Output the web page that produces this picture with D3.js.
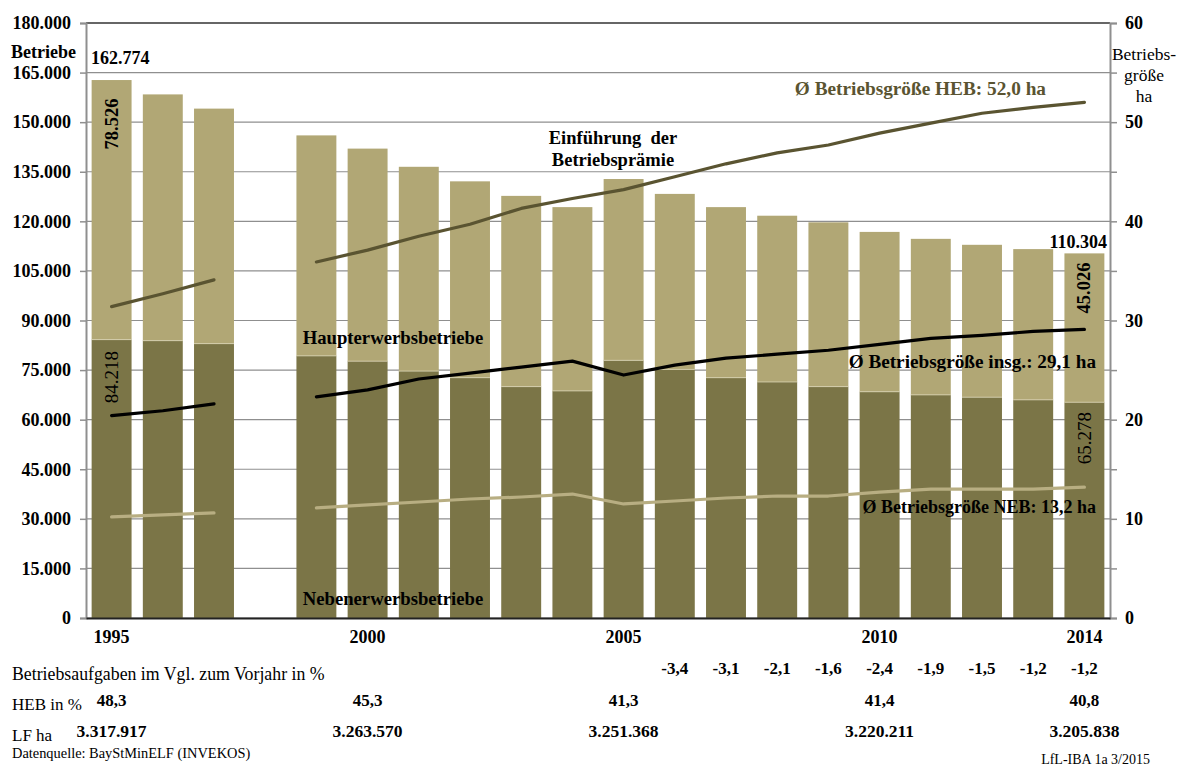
<!DOCTYPE html>
<html>
<head>
<meta charset="utf-8">
<script src="https://cdn.jsdelivr.net/npm/d3@7"></script>
<style>
  body { margin: 0; background: #fff; }
  svg { display: block; font-family: "Liberation Serif", "Times New Roman", serif; }
  text { white-space: pre; }
</style>
</head>
<body>
<svg id="chart" width="1177" height="765"></svg>
<script>
// ---- data ----
const years = ["1995","1996","1997","1998","1999","2000","2001","2002","2003","2004","2005","2006","2007","2008","2009","2010","2011","2012","2013","2014"];
// Nebenerwerbsbetriebe (dark, bottom)
const nebBetriebe = [84218, 83900, 83000, null, 79300, 77700, 74700, 72700, 70000, 68700, 77950, 75200, 72700, 71400, 70000, 68450, 67500, 66800, 66000, 65278];
// Haupterwerbsbetriebe (light, top)
const hebBetriebe = [78526, 74500, 71100, null, 66700, 64300, 61800, 59400, 57700, 55600, 54850, 53100, 51600, 50300, 49700, 48350, 47200, 46100, 45600, 45026];
// average farm size (ha)
const sizeHeb   = [31.4, 32.7, 34.1, null, 35.9, 37.1, 38.5, 39.7, 41.3, 42.3, 43.2, 44.5, 45.8, 46.9, 47.7, 48.9, 49.9, 50.9, 51.5, 52.0];
const sizeTotal = [20.4, 20.9, 21.6, null, 22.3, 23.0, 24.1, 24.7, 25.3, 25.9, 24.5, 25.5, 26.2, 26.6, 27.0, 27.6, 28.2, 28.5, 28.9, 29.1];
const sizeNeb   = [10.2, 10.4, 10.6, null, 11.1, 11.4, 11.7, 12.0, 12.2, 12.5, 11.5, 11.8, 12.1, 12.3, 12.3, 12.7, 13.0, 13.0, 13.0, 13.2];
// table rows
const aufgabenYears = ["2006","2007","2008","2009","2010","2011","2012","2013","2014"];
const aufgabenPct   = [-3.4, -3.1, -2.1, -1.6, -2.4, -1.9, -1.5, -1.2, -1.2];
const tableYears = ["1995","2000","2005","2010","2014"];
const hebPct = [48.3, 45.3, 41.3, 41.4, 40.8];
const lfHa   = [3317917, 3263570, 3251368, 3220211, 3205838];
const leftTicks  = [0,15000,30000,45000,60000,75000,90000,105000,120000,135000,150000,165000,180000];
const rightTicks = [0,10,20,30,40,50,60];
const rightMinor = [0,5,10,15,20,25,30,35,40,45,50,55,60];
const yearLabels = ["1995","2000","2005","2010","2014"];
const totalFirst = "162.774", totalLast = "110.304";

// ---- setup ----
const svg = d3.select("#chart");
const L = 86, R = 1110, T = 23, B = 618;
const x = d3.scaleBand().domain(years).range([L, R]).paddingInner(0.22).paddingOuter(0.11);
const y = d3.scaleLinear().domain([0, 180000]).range([B, T]);
const y2 = d3.scaleLinear().domain([0, 60]).range([B, T]);
const cx = yr => x(yr) + x.bandwidth() / 2;
const deFmt = d3.formatLocale({decimal: ",", thousands: ".", grouping: [3], currency: ["", "€"], minus: "-"});
const fInt = deFmt.format(",d");
const f1 = deFmt.format(".1f");

const cLight = "#b1a775", cDark = "#7b7547", cHebLine = "#5a5431", cNebLine = "#b8ae82";

// gridlines
svg.append("g").selectAll("line").data(leftTicks).join("line")
  .attr("x1", L).attr("x2", R).attr("y1", d => y(d)).attr("y2", d => y(d))
  .attr("stroke", d => d === 180000 ? "#333" : "#8f8f8f").attr("stroke-width", d => d === 180000 ? 1.6 : 1.2);

// bars
const rows = years.map((yr, i) => ({yr, neb: nebBetriebe[i], heb: hebBetriebe[i]})).filter(d => d.neb != null);
const gb = svg.append("g");
gb.selectAll("rect.neb").data(rows).join("rect")
  .attr("x", d => x(d.yr)).attr("width", x.bandwidth())
  .attr("y", d => y(d.neb)).attr("height", d => y(0) - y(d.neb))
  .attr("fill", cDark);
gb.selectAll("rect.heb").data(rows).join("rect")
  .attr("x", d => x(d.yr)).attr("width", x.bandwidth())
  .attr("y", d => y(d.neb + d.heb)).attr("height", d => y(d.neb) - y(d.neb + d.heb))
  .attr("fill", cLight);
gb.selectAll("line.sep").data(rows).join("line")
  .attr("x1", d => x(d.yr)).attr("x2", d => x(d.yr) + x.bandwidth())
  .attr("y1", d => y(d.neb)).attr("y2", d => y(d.neb))
  .attr("stroke", "#d9d3b3").attr("stroke-width", 0.8);

// axes
const axL = svg.append("g").attr("transform", `translate(${L},0)`)
  .call(d3.axisLeft(y).tickValues(leftTicks).tickSize(6).tickPadding(9).tickFormat(fInt));
axL.select(".domain").attr("stroke", "#8f8f8f").attr("stroke-width", 2);
axL.selectAll(".tick line").attr("stroke", "#8f8f8f").attr("stroke-width", 1.5);
axL.selectAll("text").attr("font-family", "Liberation Serif").attr("font-weight", "bold").attr("font-size", 18).attr("fill", "#000");

const axR = svg.append("g").attr("transform", `translate(${R},0)`)
  .call(d3.axisRight(y2).tickValues(rightMinor).tickSize(7).tickPadding(8)
    .tickFormat(d => rightTicks.includes(d) ? d : ""));
axR.select(".domain").attr("stroke", "#8f8f8f").attr("stroke-width", 2);
axR.selectAll(".tick line").attr("stroke", "#8f8f8f").attr("stroke-width", 1.5);
axR.selectAll("text").attr("font-family", "Liberation Serif").attr("font-weight", "bold").attr("font-size", 18).attr("fill", "#000");

const axB = svg.append("g").attr("transform", `translate(0,${B})`)
  .call(d3.axisBottom(x).tickValues(yearLabels).tickSize(0).tickPadding(12));
axB.select(".domain").attr("stroke", "#222").attr("stroke-width", 1.8);
axB.selectAll("text").attr("font-family", "Liberation Serif").attr("font-weight", "bold").attr("font-size", 18).attr("fill", "#000");

// lines
const line = d3.line().defined(d => d.v != null).x(d => cx(d.yr)).y(d => y2(d.v));
function drawLine(arr, color) {
  svg.append("path").datum(years.map((yr, i) => ({yr, v: arr[i]})))
    .attr("d", line).attr("fill", "none").attr("stroke", color)
    .attr("stroke-width", 3.2).attr("stroke-linejoin", "round").attr("stroke-linecap", "round");
}
drawLine(sizeHeb, cHebLine);
drawLine(sizeNeb, cNebLine);
drawLine(sizeTotal, "#000");

// text helper
function txt(t, xx, yy, opt = {}) {
  return svg.append("text").attr("x", xx).attr("y", yy).text(t)
    .attr("font-size", opt.size || 16)
    .attr("font-weight", opt.bold === false ? "normal" : "bold")
    .attr("text-anchor", opt.anchor || "start")
    .attr("dominant-baseline", "central")
    .attr("fill", opt.color || "#000")
    .attr("transform", opt.rot ? `rotate(-90,${xx},${yy})` : null);
}

txt("Betriebe", 11, 52, {size: 18});
txt(totalFirst, 91, 58, {size: 18});
txt(totalLast, 1107, 242, {size: 18, anchor: "end"});
txt("Betriebs-", 1144, 54, {bold: false, anchor: "middle", size: 17.5});
txt("größe", 1144, 75, {bold: false, anchor: "middle", size: 17.5});
txt("ha", 1144, 96, {bold: false, anchor: "middle", size: 17.5});

txt(fInt(hebBetriebe[0]), cx("1995"), 124, {size: 18.5, anchor: "middle", rot: true});
txt(fInt(nebBetriebe[0]), cx("1995"), 377, {size: 19, anchor: "middle", rot: true, bold: false});
txt(fInt(hebBetriebe[19]), cx("2014"), 288, {size: 18.5, anchor: "middle", rot: true});
txt(fInt(nebBetriebe[19]), cx("2014"), 438, {size: 19, anchor: "middle", rot: true, bold: false});

txt("Einführung  der", 613, 138, {anchor: "middle", size: 18.5});
txt("Betriebsprämie", 613, 160, {anchor: "middle", size: 18.5});
txt("Ø Betriebsgröße HEB: " + f1(sizeHeb[19]) + " ha", 1046, 88, {anchor: "end", color: cHebLine, size: 19.3});
txt("Haupterwerbsbetriebe", 393, 337, {anchor: "middle", size: 18.7});
txt("Nebenerwerbsbetriebe", 393, 598, {anchor: "middle", size: 18.7});
txt("Ø Betriebsgröße insg.: " + f1(sizeTotal[19]) + " ha", 1096, 361, {anchor: "end", size: 19.2});
txt("Ø Betriebsgröße NEB: " + f1(sizeNeb[19]) + " ha", 1096, 507, {anchor: "end", size: 18});

// table rows
txt("Betriebsaufgaben im Vgl. zum Vorjahr in %", 12, 674, {bold: false, size: 17.8});
svg.append("g").selectAll("text").data(aufgabenYears.map((yr, i) => ({yr, v: aufgabenPct[i]}))).join("text")
  .attr("x", d => cx(d.yr)).attr("y", 668).text(d => f1(d.v))
  .attr("text-anchor", "middle").attr("dominant-baseline", "central")
  .attr("font-size", 17).attr("font-weight", "bold");

txt("HEB in %", 12, 704, {bold: false, size: 17});
svg.append("g").selectAll("text").data(tableYears.map((yr, i) => ({yr, v: hebPct[i]}))).join("text")
  .attr("x", d => cx(d.yr)).attr("y", 700).text(d => f1(d.v))
  .attr("text-anchor", "middle").attr("dominant-baseline", "central")
  .attr("font-size", 17).attr("font-weight", "bold");

txt("LF ha", 12, 735, {bold: false, size: 17});
svg.append("g").selectAll("text").data(tableYears.map((yr, i) => ({yr, v: lfHa[i]}))).join("text")
  .attr("x", d => cx(d.yr)).attr("y", 731).text(d => fInt(d.v))
  .attr("text-anchor", "middle").attr("dominant-baseline", "central")
  .attr("font-size", 17.5).attr("font-weight", "bold");

txt("Datenquelle: BayStMinELF (INVEKOS)", 12, 753, {bold: false, size: 14.4});
txt("LfL-IBA 1a 3/2015", 1150, 759, {bold: false, size: 14, anchor: "end"});
</script>
</body>
</html>
